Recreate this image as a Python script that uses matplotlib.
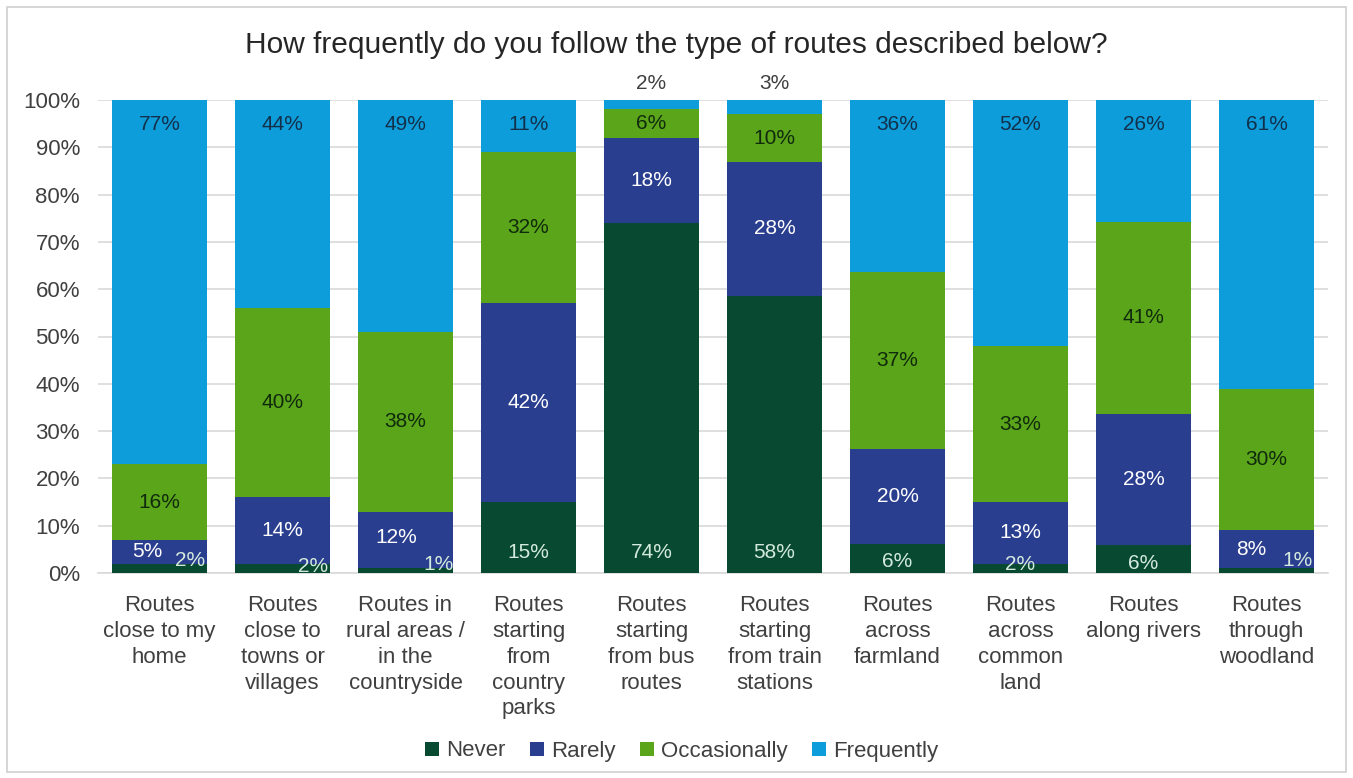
import matplotlib
matplotlib.use("Agg")
import matplotlib.pyplot as plt
from matplotlib.patches import Patch, Rectangle
import numpy as np

plt.rcParams['font.family'] = ['Liberation Sans', 'DejaVu Sans']

title = "How frequently do you follow the type of routes described below?"
categories = [
    "Routes\nclose to my\nhome",
    "Routes\nclose to\ntowns or\nvillages",
    "Routes in\nrural areas /\nin the\ncountryside",
    "Routes\nstarting\nfrom\ncountry\nparks",
    "Routes\nstarting\nfrom bus\nroutes",
    "Routes\nstarting\nfrom train\nstations",
    "Routes\nacross\nfarmland",
    "Routes\nacross\ncommon\nland",
    "Routes\nalong rivers",
    "Routes\nthrough\nwoodland",
]
series_names = ["Never", "Rarely", "Occasionally", "Frequently"]
never = [2, 2, 1, 15, 74, 58, 6, 2, 6, 1]
rarely = [5, 14, 12, 42, 18, 28, 20, 13, 28, 8]
occasionally = [16, 40, 38, 32, 6, 10, 37, 33, 41, 30]
frequently = [77, 44, 49, 11, 2, 3, 36, 52, 26, 61]
y_ticks = [0, 10, 20, 30, 40, 50, 60, 70, 80, 90, 100]

colors = ["#074a31", "#2a3e8f", "#5ba51b", "#0e9ddb"]
label_colors = ["#d4eadc", "#ffffff", "#102a0c", "#12304a"]

W, H = 1353, 778
fig = plt.figure(figsize=(W / 100, H / 100), dpi=100)
fig.patches.append(Rectangle((7 / W, 6 / H), (W - 14) / W, (H - 13) / H,
                             transform=fig.transFigure, fill=False,
                             edgecolor="#d0d0d0", linewidth=1.2))

ax = fig.add_axes([98 / W, 1 - 573 / H, (1328 - 98) / W, (573 - 100) / H])

# 100% stacked columns: each category is scaled so its segments fill the column
x = np.arange(len(categories))
width = 0.78
data = [never, rarely, occasionally, frequently]
raw = np.array(data, dtype=float)
shares = raw / raw.sum(axis=0) * 100
bottom = np.zeros(len(categories))
containers = []
for vals, col, name in zip(shares, colors, series_names):
    bc = ax.bar(x, vals, width, bottom=bottom, color=col, label=name, zorder=3)
    containers.append(bc)
    bottom += vals

ax.set_xlim(-0.5, len(categories) - 0.5)
ax.set_ylim(0, 100)
ax.set_yticks(y_ticks)
ax.set_yticklabels([f"{t}%" for t in y_ticks], fontsize=16, color="#404040")
ax.set_xticks(x)
ax.set_xticklabels(categories, fontsize=16, color="#404040", linespacing=1.3)
ax.tick_params(axis="both", length=0)
ax.tick_params(axis="y", pad=13)
ax.tick_params(axis="x", pad=16)
ax.grid(axis="y", color="#d9d9d9", linewidth=1.2, zorder=0)
for s in ["top", "right", "left"]:
    ax.spines[s].set_visible(False)
ax.spines["bottom"].set_color("#d9d9d9")
ax.spines["bottom"].set_linewidth(1.2)

# Default label placement per series: (anchor, vertical offset in points)
#   Never at the inside base, Rarely/Occasionally centred, Frequently at the inside end
default_pos = {0: ("base", 15), 1: ("center", 0), 2: ("center", 0), 3: ("top", -18)}
# Hand-placed labels where segments are too thin: (anchor, dx, dy) in points
overrides = {
    (0, 0): ("base", 22, 9), (1, 0): ("center", -9, 0),
    (0, 1): ("base", 22, 5),
    (0, 2): ("base", 24, 6), (1, 2): ("center", -7, 2),
    (3, 4): ("top", 0, 12), (3, 5): ("top", 0, 12),
    (0, 6): ("base", 0, 8), (0, 8): ("base", 0, 7),
    (0, 7): ("base", 0, 6),
    (0, 9): ("base", 22, 9), (1, 9): ("center", -11, 0),
}

for si, bc in enumerate(containers):
    for ci, rect in enumerate(bc):
        val = data[si][ci]
        cx = rect.get_x() + rect.get_width() / 2
        if (si, ci) in overrides:
            anchor, dx, dy = overrides[(si, ci)]
        else:
            anchor, dy = default_pos[si]
            dx = 0
        if anchor == "base":
            yy = rect.get_y()
        elif anchor == "top":
            yy = rect.get_y() + rect.get_height()
        else:
            yy = rect.get_y() + rect.get_height() / 2
        col = label_colors[si]
        if si == 3 and dy > 0:
            col = "#404040"
        ax.annotate(f"{val}%", xy=(cx, yy), xytext=(dx, dy),
                    textcoords="offset points", ha="center", va="center",
                    fontsize=15, color=col, zorder=5, annotation_clip=False)

fig.text(676 / W, 1 - 45 / H, title, ha="center", va="center",
         fontsize=21.5, color="#262626")

handles = [Patch(facecolor=c, edgecolor="none", label=n)
           for c, n in zip(colors, series_names)]
fig.legend(handles=handles, loc="center", bbox_to_anchor=(682 / W, 1 - 751 / H),
           ncol=4, frameon=False, fontsize=16, handlelength=0.6,
           handleheight=0.6, handletextpad=0.35, columnspacing=1.1,
           labelcolor="#404040")

fig.savefig("out.png", dpi=100)
